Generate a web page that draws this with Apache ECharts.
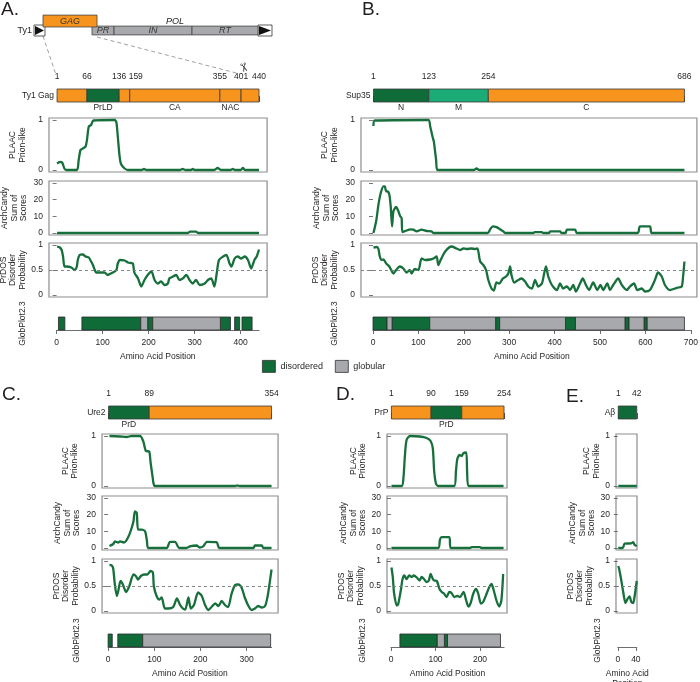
<!DOCTYPE html>
<html><head><meta charset="utf-8">
<script src="https://cdn.jsdelivr.net/npm/echarts@6/dist/echarts.min.js"></script>
<style>html,body{margin:0;padding:0;background:#fff}#c{width:700px;height:682px}</style>
</head><body><div id="c"></div>
<script>
// ================= DATA =================
// Ty1 retrotransposon schematic (schematic bp coordinates)
const ty1Ltr = [[0, 273], [5570, 5918]];
const ty1Gag = [[224, 1567, 'GAG']];
const ty1Pol = [[1442, 1990, 'PR'], [1990, 3929, 'IN'], [3929, 5570, 'RT']];

// Domain maps: [start, end, colourKey, label]
const domA = [[1,66,'o',''],[66,136,'g','PrLD'],[136,159,'o',''],[159,355,'o','CA'],[355,401,'o','NAC'],[401,440,'o','']];
const tickA = [1,66,136,159,355,401,440];
const domB = [[1,123,'g','N'],[123,254,'t','M'],[254,686,'o','C']];
const tickB = [1,123,254,686];
const domC = [[1,89,'g','PrD'],[89,354,'o','']];
const tickC = [1,89,354];
const domD = [[1,90,'o',''],[90,159,'g','PrD'],[159,254,'o','']];
const tickD = [1,90,159,254];
const domE = [[1,42,'g','']];
const tickE = [1,42];

// Panel A  – Ty1 Gag
const aPlaac = [[1,0.13],[7,0.16],[12,0.15],[17,0.03],[21,0],[44,0],[48,0.2],[52,0.4],[57,0.43],[63,0.47],[66,0.6],[70,0.87],[75,0.9],[80,0.99],[126,1],[130,0.95],[133,0.67],[137,0.27],[140,0.12],[148,0.03],[155,0],[185,0],[190,0.02],[195,0],[268,0],[274,0.02],[280,0],[292,0],[296,0.02],[300,0],[343,0],[350,0.04],[357,0],[378,0],[383,0.02],[388,0],[400,0],[405,0.04],[410,0],[440,0]];
const aArch = [[1,0],[285,0],[290,0.8],[303,0.8],[308,0],[440,0]];
const aPrdos = [[1,0.97],[7,0.95],[11,0.9],[14,0.77],[17,0.57],[21,0.57],[32,0.55],[39,0.5],[44,0.57],[46,0.7],[50,0.8],[57,0.81],[63,0.77],[70,0.75],[75,0.67],[79,0.6],[83,0.5],[86,0.45],[93,0.45],[104,0.45],[111,0.4],[122,0.45],[130,0.5],[133,0.63],[138,0.7],[148,0.69],[155,0.65],[162,0.64],[166,0.63],[169,0.45],[177,0.33],[184,0.17],[191,0.3],[198,0.4],[206,0.47],[213,0.3],[220,0.23],[227,0.27],[235,0.2],[242,0.23],[245,0.33],[253,0.37],[260,0.4],[267,0.3],[274,0.33],[282,0.4],[289,0.3],[296,0.23],[303,0.3],[311,0.2],[322,0.23],[329,0.3],[336,0.33],[343,0.17],[348,0.43],[353,0.7],[362,0.77],[369,0.8],[376,0.63],[380,0.57],[387,0.73],[394,0.77],[401,0.73],[409,0.77],[416,0.7],[423,0.53],[430,0.7],[435,0.77],[440,0.91]];
const aGlobDis = [[4,18],[55,183],[198,209],[356,378],[387,398],[403,425]];
const aGlobGlob = [[183,198],[209,356]];

// Panel B – Sup35
const bPlaac = [[1,0.88],[4,0.99],[122,1],[126,0.87],[131,0.67],[134,0.57],[139,0.2],[142,0],[222,0],[228,0.03],[234,0],[686,0]];
const bArch = [[1,0],[7,7.2],[12,17],[17,24],[23,28],[26,28],[29,25],[32,25],[36,23],[39,16],[42,4],[45,13],[51,15.6],[56,13],[60,10],[63,9],[65,0.5],[74,1.5],[82,2.2],[89,2],[96,1],[107,2],[118,1.2],[129,1],[133,0],[253,0],[258,2.2],[264,4],[272,3.5],[280,2.2],[287,1],[291,0],[353,0],[356,0.5],[372,0.5],[375,0],[388,0],[390,1],[412,1],[415,0],[424,0],[427,2],[445,2],[449,0],[583,0],[588,4],[610,4],[614,0],[686,0]];
const bPrdos = [[1,0.95],[8,0.96],[12,0.92],[15,0.77],[19,0.7],[23,0.71],[29,0.63],[36,0.57],[45,0.43],[51,0.5],[59,0.57],[67,0.53],[74,0.45],[81,0.5],[85,0.43],[92,0.52],[100,0.5],[107,0.73],[115,0.7],[126,0.71],[133,0.73],[140,0.77],[144,0.6],[149,0.7],[159,0.87],[173,0.97],[184,0.93],[192,0.9],[199,0.93],[206,0.92],[217,0.93],[225,0.92],[230,0.93],[236,0.67],[243,0.6],[249,0.5],[254,0.3],[261,0.13],[266,0.09],[272,0.25],[278,0.23],[286,0.33],[293,0.37],[298,0.43],[302,0.57],[305,0.4],[311,0.25],[320,0.3],[327,0.33],[335,0.27],[342,0.17],[350,0.13],[357,0.3],[364,0.17],[372,0.23],[377,0.43],[381,0.57],[386,0.37],[394,0.2],[405,0.1],[412,0.23],[419,0.13],[427,0.17],[434,0.1],[441,0.2],[447,0.07],[456,0.23],[462,0.33],[469,0.2],[476,0.1],[485,0.25],[494,0.1],[501,0.2],[507,0.1],[516,0.23],[522,0.1],[529,0.2],[540,0.33],[548,0.2],[559,0.1],[566,0.17],[575,0.23],[582,0.1],[592,0.13],[599,0.07],[610,0.1],[621,0.3],[628,0.45],[636,0.37],[643,0.2],[654,0.1],[665,0.13],[672,0.15],[680,0.17],[683,0.37],[686,0.67]];
const bGlobDis = [[0,31],[42,125],[270,279],[424,446],[555,564],[597,604]];
const bGlobGlob = [[31,42],[125,270],[279,424],[446,555],[564,597],[604,686]];

// Panel C – Ure2
const cPlaac = [[3,1],[26,0.99],[40,0.98],[51,1],[69,1],[76,0.9],[82,0.7],[89,0.69],[92,0.47],[97,0.14],[98,0.07],[101,0],[275,0],[280,0.01],[285,0],[354,0]];
const cArch = [[3,1.2],[11,2.4],[15,3.9],[22,3.3],[26,4],[34,3.3],[39,4.3],[46,8],[51,12],[55,16],[58,22],[62,21],[65,11],[73,11],[80,10],[84,4.5],[87,0],[127,0],[134,3.7],[145,3.7],[154,0],[170,0],[177,1],[192,1.5],[198,0.3],[206,1],[214,3.7],[235,3.5],[241,0],[315,0],[318,1.5],[333,1.5],[336,0],[354,0]];
const cPrdos = [[3,0.92],[8,0.91],[11,0.85],[15,0.5],[19,0.3],[22,0.4],[27,0.6],[32,0.53],[39,0.38],[46,0.5],[55,0.73],[60,0.7],[65,0.63],[71,0.7],[78,0.73],[85,0.73],[92,0.8],[97,0.77],[99,0.5],[105,0.3],[111,0.23],[116,0.27],[123,0.05],[130,0.05],[141,0.08],[149,0.25],[156,0.12],[162,0.05],[167,0.03],[174,0.27],[179,0.05],[186,0.12],[195,0.37],[203,0.3],[210,0.12],[217,0.02],[224,0.08],[232,0.15],[239,0.1],[246,0.2],[253,0.12],[260,0.08],[267,0.33],[275,0.52],[282,0.53],[289,0.47],[296,0.27],[304,0.1],[311,0.02],[318,0.05],[325,0.1],[333,0.07],[340,0.1],[345,0.27],[349,0.5],[354,0.83]];
const cGlobDis = [[0,9],[21,75]];
const cGlobGlob = [[75,352]];

// Panel D – PrP
const dPlaac = [[1,0],[24,0],[28,0.17],[31,0.57],[35,0.92],[43,1],[65,0.99],[80,0.96],[89,0.9],[94,0.75],[97,0.3],[101,0.05],[106,0],[142,0],[146,0.3],[149,0.54],[154,0.62],[159,0.6],[162,0.65],[169,0.67],[171,0.3],[174,0],[253,0]];
const dArch = [[1,0],[106,0],[110,5],[114,6.5],[131,6.5],[134,0],[178,0],[181,0.5],[200,0.5],[203,0],[253,0]];
const dPrdos = [[1,0.87],[4,0.68],[7,0.35],[13,0.11],[16,0.13],[22,0.41],[26,0.64],[30,0.71],[35,0.64],[41,0.71],[47,0.68],[51,0.71],[58,0.67],[64,0.61],[69,0.68],[74,0.64],[80,0.58],[85,0.61],[89,0.74],[94,0.64],[97,0.61],[103,0.6],[109,0.44],[114,0.38],[119,0.35],[125,0.28],[131,0.38],[136,0.36],[142,0.28],[149,0.3],[155,0.28],[163,0.38],[169,0.21],[174,0.09],[179,0.16],[185,0.35],[191,0.44],[196,0.35],[202,0.15],[207,0.18],[215,0.35],[221,0.48],[226,0.54],[230,0.44],[237,0.21],[243,0.09],[248,0.21],[252,0.74]];
const dGlobDis = [[20,104],[120,127]];
const dGlobGlob = [[104,120],[127,246]];

// Panel E – Abeta
const ePlaac = [[1,0],[42,0]];
const eArch = [[1,0],[11,0],[15,2.6],[30,2.8],[34,3.5],[37,2],[42,1.2]];
const ePrdos = [[1,0.9],[3,0.84],[7,0.65],[12,0.38],[17,0.16],[22,0.25],[26,0.29],[30,0.18],[34,0.16],[37,0.28],[42,0.6]];
const eGlobDis = [];
const eGlobGlob = [];

// Axis tick values
const plaacTicks = [0, 1];
const archTicks = [0, 10, 20, 30];
const prdosTicks = [0, 0.5, 1];

// ================= STYLE / LAYOUT =================
const FONT = "'Liberation Sans', Arial, Helvetica, sans-serif";
const TXT = '#231f20';
const LINE = '#17703c';
const GREEN = '#0f6b37';
const TEAL = '#1bab77';
const ORANGE = '#f7941d';
const GRAY = '#a7a9ac';
const BOX = '#8d8d8d';
const colorOf = {o: ORANGE, g: GREEN, t: TEAL};
const FS = 8.5;

const tracks = {
  plaac: {name: 'PLAAC\nPrion-like', min: -0.04, max: 1.04, ticks: plaacTicks},
  arch: {name: 'ArchCandy\nSum of\nScores', min: -1.2, max: 31.2, ticks: archTicks},
  prdos: {name: 'PrDOS\nDisorder\nProbability', min: -0.04, max: 1.04, ticks: prdosTicks, ref: 0.5}
};

const rowsTop = {dom: 89, plaac: 118, arch: 181, prdos: 243, glob: 317};
const rowsBot = {dom: 406, plaac: 434, arch: 496, prdos: 559, glob: 634};

const panels = [
  {x0: 56.6, s: 0.46, pmin: -16.56, pmax: 457.56, dmin: 1, dmax: 440, gmax: 440, rows: rowsTop,
   gaps: {plaac: 22, arch: 20.5, prdos: 21.5, glob: 29.6}, protein: 'Ty1 Gag', domains: domA, ticks: tickA, shift: [159],
   plaac: aPlaac, arch: aArch, prdos: aPrdos, dis: aGlobDis, glob: aGlobGlob, globTicks: [0,100,200,300,400], xName: 'Amino Acid Position'},
  {x0: 373, s: 0.454, pmin: -26.44, pmax: 713.44, dmin: 1, dmax: 686, gmax: 700, rows: rowsTop,
   gaps: {plaac: 22, arch: 20.5, prdos: 21.5, glob: 34}, protein: 'Sup35', domains: domB, ticks: tickB, shift: [],
   plaac: bPlaac, arch: bArch, prdos: bPrdos, dis: bGlobDis, glob: bGlobGlob, globTicks: [0,100,200,300,400,500,600,700], xName: 'Amino Acid Position'},
  {x0: 108.1, s: 0.4617, pmin: -13.12, pmax: 368.12, dmin: 1, dmax: 354, gmax: 354, rows: rowsBot,
   gaps: {plaac: 22.5, arch: 20.5, prdos: 20.5, glob: 26.5}, protein: 'Ure2', domains: domC, ticks: tickC, shift: [],
   plaac: cPlaac, arch: cArch, prdos: cPrdos, dis: cGlobDis, glob: cGlobGlob, globTicks: [0,100,200,300], xName: 'Amino Acid Position'},
  {x0: 391, s: 0.445, pmin: -9, pmax: 260.7, dmin: 1, dmax: 254, gmax: 254, rows: rowsBot,
   gaps: {plaac: 19.5, arch: 19.5, prdos: 19.5, glob: 23.5}, protein: 'PrP', domains: domD, ticks: tickD, shift: [],
   plaac: dPlaac, arch: dArch, prdos: dPrdos, dis: dGlobDis, glob: dGlobGlob, globTicks: [0,100,200], xName: 'Amino Acid Position'},
  {x0: 617.8, s: 0.4516, pmin: -4, pmax: 42.5, dmin: 1, dmax: 42, gmax: 42, rows: rowsBot,
   gaps: {plaac: 4.5, arch: 14, prdos: 16, glob: 16}, protein: 'Aβ', domains: domE, ticks: tickE, shift: [],
   plaac: ePlaac, arch: eArch, prdos: ePrdos, dis: eGlobDis, glob: eGlobGlob, globTicks: [0,40], xName: 'Amino Acid\nPosition'}
];

// ================= BUILD =================
const option = {
  animation: false,
  textStyle: {fontFamily: FONT},
  title: [
    {text: 'A.', left: 1, top: 0},
    {text: 'B.', left: 362, top: 0},
    {text: 'C.', left: 2, top: 385},
    {text: 'D.', left: 336, top: 385},
    {text: 'E.', left: 566, top: 387}
  ].map(t => Object.assign({padding: 0, textStyle: {fontSize: 19, fontWeight: 'normal', color: TXT, fontFamily: FONT}}, t)),
  legend: {
    left: 262, top: 360, padding: 0, itemWidth: 13, itemHeight: 12, itemGap: 12, icon: 'rect',
    selectedMode: false, data: ['disordered', 'globular'],
    textStyle: {fontSize: 9, color: TXT, fontFamily: FONT},
    itemStyle: {borderColor: '#333', borderWidth: 0.8}
  },
  grid: [], xAxis: [], yAxis: [], series: []
};

let gi = 0;
function addGrid(rect, xCfg, yCfg) {
  option.grid.push(Object.assign({outerBoundsMode: 'none', containLabel: false}, rect));
  option.xAxis.push(Object.assign({gridIndex: gi, type: 'value'}, xCfg));
  option.yAxis.push(Object.assign({gridIndex: gi, type: 'value'}, yCfg));
  return gi++;
}
const hiddenY = {axisLine: {show: false}, axisTick: {show: false}, axisLabel: {show: false}, splitLine: {show: false}};

// ---- Ty1 schematic ----
const schemG = addGrid({left: 34, top: 14, width: 238, height: 22},
  {min: 0, max: 5918, show: false},
  Object.assign({min: 0, max: 1, name: 'Ty1', nameLocation: 'middle', nameRotate: 0, nameGap: 2,
    nameTextStyle: {fontSize: 9, color: TXT, verticalAlign: 'top', padding: [1, 0, 0, 0]}}, hiddenY));

option.series.push({
  type: 'custom', xAxisIndex: schemG, yAxisIndex: schemG, silent: true, data: ty1Ltr,
  renderItem(params, api) {
    const a = api.coord([api.value(0), 0.5]), b = api.coord([api.value(1), 0]);
    const mid = (a[1] + b[1]) / 2;
    return {type: 'group', children: [
      {type: 'rect', shape: {x: a[0], y: a[1], width: b[0] - a[0], height: b[1] - a[1]}, style: {fill: '#fff', stroke: '#333', lineWidth: 0.8}},
      {type: 'polygon', shape: {points: [[a[0] + 1, a[1] + 1], [b[0] - 1, mid], [a[0] + 1, b[1] - 1]]}, style: {fill: '#111'}}
    ]};
  }
});
option.series.push({
  type: 'custom', xAxisIndex: schemG, yAxisIndex: schemG, silent: true, data: ty1Pol.map(d => [d[0], d[1]]),
  renderItem(params, api) {
    const d = ty1Pol[params.dataIndex];
    const a = api.coord([api.value(0), 0.45]), b = api.coord([api.value(1), 0.05]);
    const ch = [
      {type: 'rect', shape: {x: a[0], y: a[1], width: b[0] - a[0], height: b[1] - a[1]}, style: {fill: GRAY, stroke: '#444', lineWidth: 0.8}},
      {type: 'text', x: (a[0] + b[0]) / 2, y: (a[1] + b[1]) / 2, style: {text: d[2], fill: '#333', font: 'italic 9px ' + FONT, align: 'center', verticalAlign: 'middle'}}
    ];
    if (params.dataIndex === 0) {
      const c = api.coord([(ty1Pol[0][0] + ty1Pol[ty1Pol.length - 1][1]) / 2, 0.68]);
      ch.push({type: 'text', x: c[0], y: c[1], style: {text: 'POL', fill: '#222', font: 'italic 9px ' + FONT, align: 'center', verticalAlign: 'middle'}});
    }
    return {type: 'group', children: ch};
  }
});
option.series.push({
  type: 'custom', xAxisIndex: schemG, yAxisIndex: schemG, silent: true, data: ty1Gag.map(d => [d[0], d[1]]),
  renderItem(params, api) {
    const d = ty1Gag[params.dataIndex];
    const a = api.coord([api.value(0), 0.95]), b = api.coord([api.value(1), 0.41]);
    return {type: 'group', children: [
      {type: 'rect', shape: {x: a[0], y: a[1], width: b[0] - a[0], height: b[1] - a[1]}, style: {fill: ORANGE, stroke: '#444', lineWidth: 0.8}},
      {type: 'text', x: (a[0] + b[0]) / 2, y: (a[1] + b[1]) / 2, style: {text: d[2], fill: '#333', font: 'italic 9px ' + FONT, align: 'center', verticalAlign: 'middle'}}
    ]};
  }
});

const domGrids = [];
panels.forEach(p => {
  // ---- domain bar ----
  const dg = addGrid({left: p.x0 + p.dmin * p.s, top: p.rows.dom, width: (p.dmax - p.dmin) * p.s, height: 13},
    {min: p.dmin, max: p.dmax, position: 'top', axisLine: {show: false}, splitLine: {show: false},
     axisTick: {show: true, inside: false, length: 6, customValues: p.ticks, lineStyle: {color: '#333', width: 0.8}},
     axisLabel: {customValues: p.ticks, margin: 8, fontSize: FS, color: TXT,
       formatter: v => p.shift.indexOf(v) >= 0 ? '{sh|' + v + '}' : String(v),
       rich: {sh: {padding: [0, 0, 0, 12], fontSize: FS, color: TXT}}}},
    Object.assign({min: 0, max: 1, name: p.protein, nameLocation: 'middle', nameRotate: 0, nameGap: 3,
      nameTextStyle: {fontSize: FS, color: TXT}}, hiddenY));
  domGrids.push(dg);
  option.series.push({
    type: 'custom', xAxisIndex: dg, yAxisIndex: dg, silent: true, data: p.domains.map(d => [d[0], d[1]]),
    renderItem(params, api) {
      const d = p.domains[params.dataIndex];
      const a = api.coord([api.value(0), 1]), b = api.coord([api.value(1), 0]);
      const ch = [{type: 'rect', shape: {x: a[0], y: a[1], width: b[0] - a[0], height: b[1] - a[1]},
        style: {fill: colorOf[d[2]], stroke: '#3a3a3a', lineWidth: 0.8}}];
      if (d[3]) ch.push({type: 'text', x: (a[0] + b[0]) / 2, y: b[1] + 1.5,
        style: {text: d[3], fill: TXT, font: FS + 'px ' + FONT, align: 'center', verticalAlign: 'top'}});
      return {type: 'group', children: ch};
    }
  });

  // ---- profile tracks ----
  ['plaac', 'arch', 'prdos'].forEach(t => {
    const tr = tracks[t];
    const g = addGrid({left: p.x0 + p.pmin * p.s, top: p.rows[t], width: (p.pmax - p.pmin) * p.s, height: 54,
        show: true, borderColor: BOX, borderWidth: 1.2, backgroundColor: 'transparent'},
      {min: p.pmin, max: p.pmax, show: false},
      {min: tr.min, max: tr.max, axisLine: {show: false}, splitLine: {show: false},
       axisTick: {show: true, inside: false, length: 4, customValues: tr.ticks, lineStyle: {color: '#555', width: 0.8}},
       axisLabel: {customValues: tr.ticks, margin: 6, fontSize: FS, color: TXT},
       name: tr.name, nameLocation: 'middle', nameRotate: 90, nameGap: p.gaps[t],
       nameTextStyle: {fontSize: FS, lineHeight: 9.5, color: TXT}});
    const s = {type: 'line', xAxisIndex: g, yAxisIndex: g, data: p[t], showSymbol: false, symbol: 'none',
      smooth: 0.25, lineStyle: {color: LINE, width: 2.3}, silent: true, z: 3};
    if (tr.ref != null) s.markLine = {silent: true, symbol: 'none', label: {show: false},
      lineStyle: {type: [3, 3], color: '#777', width: 0.9}, data: [{yAxis: tr.ref}]};
    option.series.push(s);
  });

  // ---- GlobPlot ----
  const gg = addGrid({left: p.x0, top: p.rows.glob, width: p.gmax * p.s, height: 13},
    {min: 0, max: p.gmax, position: 'bottom', offset: 1, splitLine: {show: false},
     axisLine: {show: true, lineStyle: {color: '#6d6e71', width: 1.2}},
     axisTick: {show: true, inside: false, length: 4, customValues: p.globTicks, lineStyle: {color: '#6d6e71'}},
     axisLabel: {customValues: p.globTicks, margin: 7, fontSize: FS, color: TXT},
     name: p.xName, nameLocation: 'middle', nameGap: 21, nameTextStyle: {fontSize: FS, lineHeight: 10, color: TXT}},
    Object.assign({min: 0, max: 1, name: 'GlobPlot2.3', nameLocation: 'middle', nameRotate: 90, nameGap: p.gaps.glob,
      nameTextStyle: {fontSize: FS, color: TXT}}, hiddenY));
  [[p.dis, GREEN, 'disordered'], [p.glob, GRAY, 'globular']].forEach(([segs, col, nm]) => {
    option.series.push({
      type: 'custom', name: nm, xAxisIndex: gg, yAxisIndex: gg, silent: true, data: segs,
      itemStyle: {color: col, borderColor: '#333', borderWidth: 0.8},
      renderItem(params, api) {
        const a = api.coord([api.value(0), 1]), b = api.coord([api.value(1), 0]);
        return {type: 'rect', shape: {x: a[0], y: a[1], width: b[0] - a[0], height: b[1] - a[1]},
          style: {fill: col, stroke: '#2b2b2b', lineWidth: 0.8}};
      }
    });
  });
});

const chart = echarts.init(document.getElementById('c'), null, {renderer: 'canvas'});
chart.setOption(option);

// connector lines from GAG to the Ty1 Gag map, plus scissors at the NAC cleavage
const gA = chart.convertToPixel({gridIndex: schemG}, [ty1Gag[0][0], 0]);
const gB = chart.convertToPixel({gridIndex: schemG}, [ty1Gag[0][1], 0]);
const eA = chart.convertToPixel({gridIndex: domGrids[0]}, [tickA[0], 1]);
const eB = chart.convertToPixel({gridIndex: domGrids[0]}, [tickA[5], 1]);
chart.setOption({graphic: [
  {type: 'line', silent: true, shape: {x1: gA[0], y1: gA[1], x2: eA[0] - 1, y2: eA[1] - 14}, style: {stroke: '#a0a0a0', lineWidth: 1, lineDash: [4, 3]}},
  {type: 'line', silent: true, shape: {x1: gB[0], y1: gB[1] + 1, x2: eB[0] - 1, y2: eB[1] - 15}, style: {stroke: '#a0a0a0', lineWidth: 1, lineDash: [4, 3]}},
  {type: 'text', silent: true, x: eB[0] + 2, y: eB[1] - 21, rotation: -Math.PI / 2 + 0.3,
   style: {text: '\u2702', font: '12px "DejaVu Sans"', fill: '#222', align: 'center', verticalAlign: 'middle'}}
]});
</script>
</body></html>
